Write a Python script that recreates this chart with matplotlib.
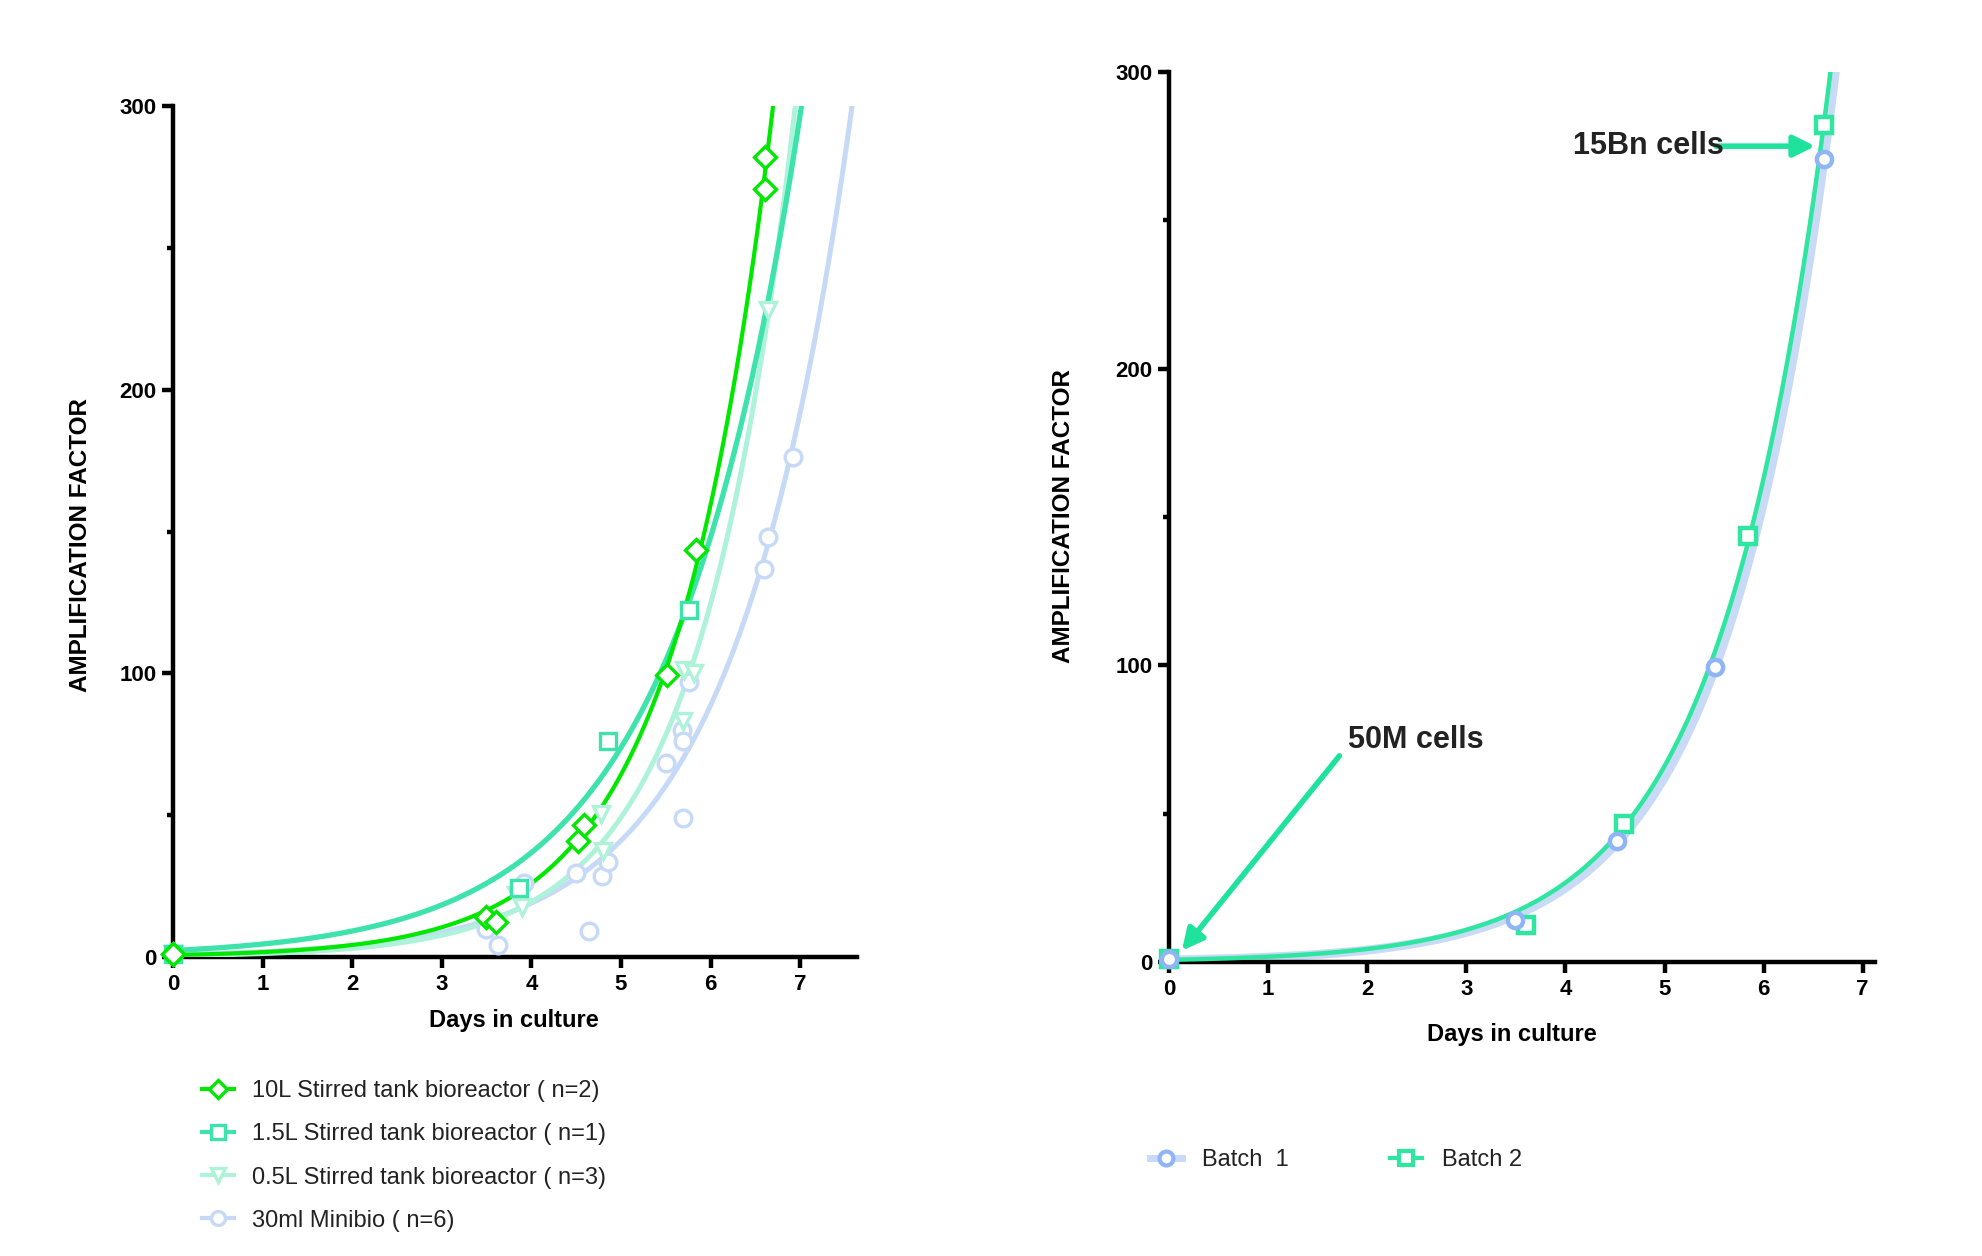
import numpy as np
import matplotlib
matplotlib.use('Agg')
import matplotlib.pyplot as plt
from matplotlib import font_manager as fm
from matplotlib.lines import Line2D

names = {f.name for f in fm.fontManager.ttflist}
SANS = next((n for n in ['Liberation Sans', 'Arimo', 'Arial', 'DejaVu Sans'] if n in names), 'DejaVu Sans')

# ---------------- data ----------------
# Right panel: two batches in the 10L stirred tank bioreactor
days_b1 = [0, 3.49, 4.52, 5.51, 6.61]
amp_b1 = [1, 14.0, 40.9, 99.3, 270.6]
days_b2 = [0, 3.60, 4.59, 5.84, 6.61]
amp_b2 = [1, 12.4, 46.4, 143.6, 282.0]

# Left panel
days_10L = days_b1 + days_b2
amp_10L = amp_b1 + amp_b2

days_1_5L = [0, 3.86, 4.85, 5.76]
amp_1_5L = [1, 24.3, 76.3, 122.5]

days_0_5L = [0, 0, 0, 3.83, 3.90, 4.78, 4.80, 5.69, 5.70, 5.82, 6.64]
amp_0_5L = [1, 1, 1, 22.0, 17.5, 50.3, 37.4, 83.2, 101.0, 100.2, 228.0]

days_mini = [0, 0, 0, 0, 0, 0, 3.49, 3.63, 3.92, 4.50, 4.64, 4.79, 4.85,
             5.50, 5.68, 5.69, 5.69, 5.76, 6.60, 6.64, 6.92]
amp_mini = [1, 1, 1, 1, 1, 1, 9.8, 4.4, 26.0, 29.6, 9.2, 28.4, 33.4,
            68.4, 80.1, 76.3, 49.1, 97.0, 136.9, 147.9, 176.2]

labels_left = ['10L Stirred tank bioreactor ( n=2)', '1.5L Stirred tank bioreactor ( n=1)',
               '0.5L Stirred tank bioreactor ( n=3)', '30ml Minibio ( n=6)']
labels_right = ['Batch  1', 'Batch 2']

C_10L = '#00e800'
C_15L = '#3de3aa'
C_05L = '#aef2da'
C_MINI = '#c6d9f6'
C_B1M = '#8fb5f6'
C_B1L = '#c9daf7'
C_B2 = '#2ee6a0'
C_ARROW = '#1fe39c'
C_TEXT = '#222222'


def fit_exp(x, y):
    """Least-squares exponential growth fit Y = A*exp(k*x)."""
    x = np.asarray(x, float)
    y = np.asarray(y, float)
    best = None
    for k in np.linspace(0.2, 1.6, 14001):
        e = np.exp(k * x)
        A = (y @ e) / (e @ e)
        sse = np.sum((y - A * e) ** 2)
        if best is None or sse < best[0]:
            best = (sse, A, k)
    return best[1], best[2]


plt.rcParams['font.family'] = [SANS, 'DejaVu Sans']

W, H = 1982, 1256
fig = plt.figure(figsize=(W / 100, H / 100), dpi=100)

ax1 = fig.add_axes([173 / W, 1 - 957 / H, 683.6 / W, 851 / H])
ax2 = fig.add_axes([1169 / W, 1 - 962 / H, 705.6 / W, 890 / H])


def style_axes(ax, xmax):
    ax.set_xlim(0, xmax)
    ax.set_ylim(0, 300)
    for s in ['top', 'right']:
        ax.spines[s].set_visible(False)
    for s in ['left', 'bottom']:
        ax.spines[s].set_linewidth(3.2)
    ax.set_xticks(range(0, 8))
    ax.set_yticks([0, 100, 200, 300])
    ax.set_yticks([50, 150, 250], minor=True)
    ax.tick_params(axis='both', which='major', direction='out', length=8, width=3.2,
                   labelsize=16, pad=4)
    ax.tick_params(axis='y', which='minor', direction='out', length=4, width=3.2)
    for lab in ax.get_xticklabels() + ax.get_yticklabels():
        lab.set_fontweight('bold')
    ax.set_xlabel('Days in culture', fontsize=17, fontweight='bold')
    ax.set_ylabel('AMPLIFICATION FACTOR', fontsize=17.5, fontweight='bold')


style_axes(ax1, 7.63)
style_axes(ax2, 7.12)

ax1.xaxis.set_label_coords(0.499, -0.075)
ax1.xaxis.label.set_va('center')
ax1.yaxis.set_label_coords(-0.136, 0.484)
ax1.yaxis.label.set_va('center')
ax2.xaxis.set_label_coords(0.486, -0.082)
ax2.xaxis.label.set_va('center')
ax2.yaxis.set_label_coords(-0.150, 0.501)
ax2.yaxis.label.set_va('center')

xs1 = np.linspace(0, 7.63, 600)

left_series = [
    (days_mini, amp_mini, C_MINI, 'o', 12, 3.6, 2),
    (days_0_5L, amp_0_5L, C_05L, 'v', 12, 3.6, 3),
    (days_1_5L, amp_1_5L, C_15L, 's', 11.5, 3.8, 4),
    (days_10L, amp_10L, C_10L, 'D', 11, 3.0, 5),
]
for dx, dy, col, mk, ms, lw, z in left_series:
    A, k = fit_exp(dx, dy)
    ax1.plot(xs1, A * np.exp(k * xs1), color=col, lw=lw, zorder=z, solid_capstyle='butt')
    ax1.plot(dx, dy, ls='none', marker=mk, ms=ms, mfc='white', mec=col, mew=2.4,
             zorder=z + 5, clip_on=False)

xs2 = np.linspace(0, 7.12, 600)
A1, k1 = fit_exp(days_b1, amp_b1)
A2, k2 = fit_exp(days_b2, amp_b2)
ax2.plot(xs2, A1 * np.exp(k1 * xs2), color=C_B1L, lw=6.5, zorder=2)
ax2.plot(xs2, A2 * np.exp(k2 * xs2), color=C_B2, lw=3.2, zorder=3)
ax2.plot(days_b1, amp_b1, ls='none', marker='o', ms=11, mfc='white', mec=C_B1M, mew=3.2,
         zorder=6, clip_on=False)
ax2.plot(days_b2, amp_b2, ls='none', marker='s', ms=11, mfc='white', mec=C_B2, mew=3.2,
         zorder=5, clip_on=False)

# annotations
ax2.annotate('', xy=(6.52, 275), xytext=(5.52, 275),
             arrowprops=dict(arrowstyle='-|>', color=C_ARROW, lw=4, mutation_scale=32,
                             shrinkA=0, shrinkB=0), zorder=8)
ax2.text(5.60, 275, '15Bn cells', ha='right', va='center', fontsize=22,
         fontweight='bold', color=C_TEXT, zorder=9)
ax2.annotate('', xy=(0.13, 3.8), xytext=(1.72, 69.5),
             arrowprops=dict(arrowstyle='-|>', color=C_ARROW, lw=4, mutation_scale=32,
                             shrinkA=0, shrinkB=0), zorder=8)
ax2.text(1.81, 75, '50M cells', ha='left', va='center', fontsize=22,
         fontweight='bold', color=C_TEXT, zorder=9)

# legends
h_left = [
    Line2D([], [], color=C_10L, lw=3, marker='D', ms=9, mfc='white', mec=C_10L, mew=2.4),
    Line2D([], [], color=C_15L, lw=3, marker='s', ms=10, mfc='white', mec=C_15L, mew=2.4),
    Line2D([], [], color=C_05L, lw=3, marker='v', ms=10, mfc='white', mec=C_05L, mew=2.4),
    Line2D([], [], color=C_MINI, lw=3, marker='o', ms=10, mfc='white', mec=C_MINI, mew=2.4),
]
leg1 = fig.legend(h_left, labels_left, loc='center left', bbox_to_anchor=(202 / W, 1 - 1156 / H),
                  frameon=False, prop={'size': 17}, handlelength=1.35,
                  handletextpad=0.75, labelspacing=0.89, borderaxespad=0, borderpad=0)
for t in leg1.get_texts():
    t.set_color(C_TEXT)

h_right = [
    Line2D([], [], color=C_B1L, lw=5, marker='o', ms=10, mfc='white', mec=C_B1M, mew=3),
    Line2D([], [], color=C_B2, lw=3, marker='s', ms=10, mfc='white', mec=C_B2, mew=3),
]
leg2 = fig.legend(h_right, labels_right, loc='center left', bbox_to_anchor=(1150 / W, 1 - 1160 / H),
                  frameon=False, prop={'size': 17}, handlelength=1.35,
                  handletextpad=0.85, columnspacing=4.3, ncol=2, borderaxespad=0, borderpad=0)
for t in leg2.get_texts():
    t.set_color(C_TEXT)

fig.savefig('out.png', dpi=100)
